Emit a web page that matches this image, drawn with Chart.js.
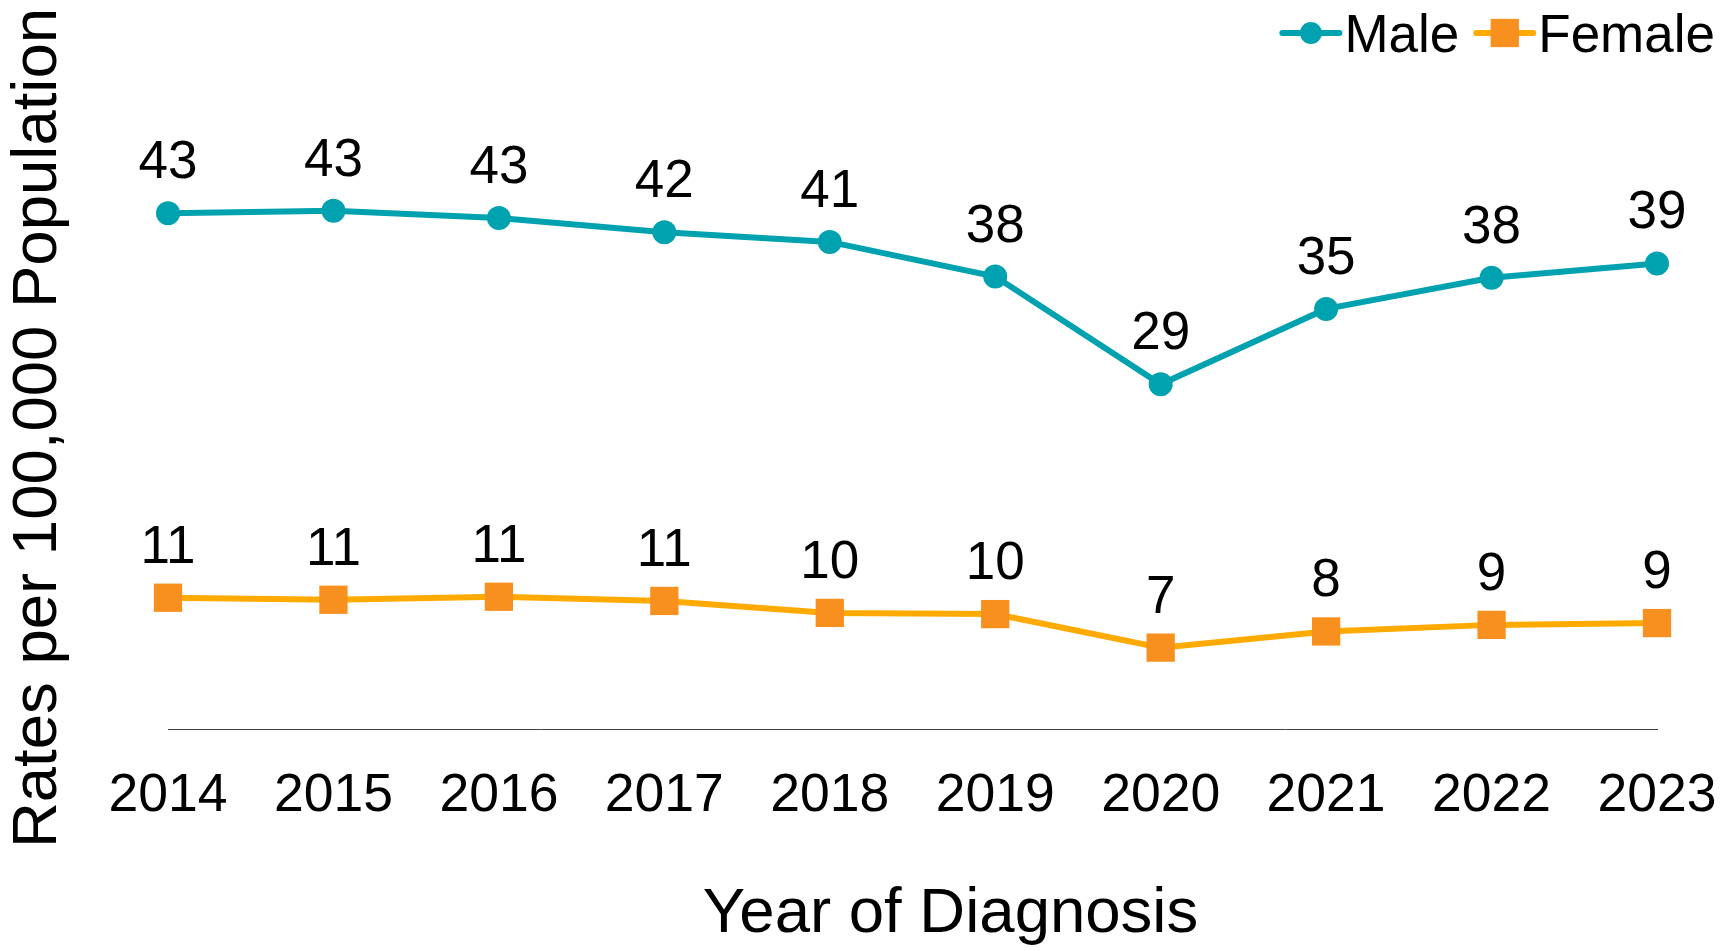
<!DOCTYPE html>
<html>
<head>
<meta charset="utf-8">
<title>Rates per 100,000 Population by Year of Diagnosis</title>
<script src="https://cdn.jsdelivr.net/npm/chart.js@4/dist/chart.umd.min.js"></script>
<style>
  html, body { margin: 0; padding: 0; background: #fff; }
  #wrap { width: 1722px; height: 951px; position: relative; }
</style>
</head>
<body>
<div id="wrap"><canvas id="ratechart"></canvas></div>
<script>
// DATA
const years = ['2014', '2015', '2016', '2017', '2018', '2019', '2020', '2021', '2022', '2023'];
const maleRates = [43.1, 43.3, 42.7, 41.5, 40.7, 37.8, 28.8, 35.1, 37.7, 38.9];
const femaleRates = [10.97, 10.8, 11.05, 10.7, 9.7, 9.6, 6.8, 8.15, 8.7, 8.85];
const seriesNames = ['Male', 'Female'];
const xTitle = 'Year of Diagnosis';
const yTitle = 'Rates per 100,000 Population';

const FONT = '"Liberation Sans", Arial, Helvetica, sans-serif';
const TEAL = '#00A2B0';
const ORANGE = '#F7901E';
const AMBER = '#FFAA00';

// value labels above each point
const pointLabels = {
  id: 'pointLabels',
  afterDatasetsDraw(chart) {
    const ctx = chart.ctx;
    ctx.save();
    ctx.font = '53px ' + FONT;
    ctx.fillStyle = '#000';
    ctx.textAlign = 'center';
    ctx.textBaseline = 'alphabetic';
    chart.data.datasets.forEach((ds, i) => {
      chart.getDatasetMeta(i).data.forEach((pt, j) => {
        ctx.fillText(String(Math.round(ds.data[j])), pt.x, pt.y - 35);
      });
    });
    ctx.restore();
  }
};

// x axis title sits a bit right of the plot centre in the original
const xAxisTitle = {
  id: 'xAxisTitle',
  afterDraw(chart) {
    const ctx = chart.ctx;
    const area = chart.chartArea;
    ctx.save();
    ctx.font = '63.5px ' + FONT;
    ctx.fillStyle = '#000';
    ctx.textAlign = 'center';
    ctx.textBaseline = 'middle';
    ctx.fillText(xTitle, (area.left + area.right) / 2 + 38, chart.height - 37);
    ctx.restore();
  }
};

// legend with line + marker, top right
const lineLegend = {
  id: 'lineLegend',
  afterDraw(chart) {
    const ctx = chart.ctx;
    const dsets = chart.data.datasets;
    ctx.save();
    ctx.font = '53px ' + FONT;
    ctx.textBaseline = 'alphabetic';
    ctx.textAlign = 'left';
    let x = chart.width - 7;
    const cy = 33;
    for (let i = dsets.length - 1; i >= 0; i--) {
      const ds = dsets[i];
      const w = ctx.measureText(ds.label).width;
      x -= w;
      ctx.fillStyle = '#000';
      ctx.fillText(ds.label, x, 52);
      x -= 5;
      ctx.strokeStyle = ds.borderColor;
      ctx.lineWidth = 6;
      ctx.lineCap = 'round';
      ctx.beginPath();
      ctx.moveTo(x - 57, cy);
      ctx.lineTo(x, cy);
      ctx.stroke();
      ctx.fillStyle = ds.pointBackgroundColor;
      Chart.helpers.drawPoint(ctx, {
        pointStyle: ds.pointStyle,
        radius: ds.pointStyle === 'rect' ? 20 : 11,
        rotation: 0,
        borderWidth: 0
      }, x - 28.5, cy);
      x -= 57 + 17;
    }
    ctx.restore();
  }
};

document.addEventListener('DOMContentLoaded', function() {
  const ctx = document.getElementById('ratechart').getContext('2d');
  const ratechart = new Chart(ctx, {
    type: 'line',
    data: {
      labels: years,
      datasets: [{
        label: seriesNames[0],
        data: maleRates,
        borderColor: TEAL,
        backgroundColor: TEAL,
        borderWidth: 6,
        tension: 0,
        pointStyle: 'circle',
        pointRadius: 12,
        pointHoverRadius: 12,
        pointBackgroundColor: TEAL,
        pointBorderColor: TEAL,
        pointBorderWidth: 0
      }, {
        label: seriesNames[1],
        data: femaleRates,
        borderColor: AMBER,
        backgroundColor: ORANGE,
        borderWidth: 6,
        tension: 0,
        pointStyle: 'rect',
        pointRadius: 20,
        pointHoverRadius: 20,
        pointBackgroundColor: ORANGE,
        pointBorderColor: ORANGE,
        pointBorderWidth: 0
      }]
    },
    options: {
      responsive: true,
      maintainAspectRatio: false,
      animation: false,
      layout: {
        padding: { top: 127, right: 5, bottom: 0, left: 0 }
      },
      plugins: {
        legend: { display: false },
        tooltip: { enabled: false }
      },
      scales: {
        x: {
          offset: false,
          grid: { display: false, drawTicks: false },
          border: { display: true, color: '#3f3f3f', width: 1 },
          ticks: {
            color: '#000',
            padding: 35,
            maxRotation: 0,
            autoSkip: false,
            font: { family: FONT, size: 53.5 }
          },
          afterFit: function(scale) {
            scale.height = 222;
            scale.paddingRight = 65;
          }
        },
        y: {
          min: 0,
          max: 50.3,
          grid: { display: false, drawTicks: false },
          border: { display: false },
          ticks: { display: false },
          title: {
            display: true,
            text: yTitle,
            color: '#000',
            padding: { top: 0, bottom: 0 },
            font: { family: FONT, size: 63.5 }
          },
          afterFit: function(scale) { scale.width = 168; }
        }
      }
    },
    plugins: [pointLabels, xAxisTitle, lineLegend]
  });
});
</script>
</body>
</html>
